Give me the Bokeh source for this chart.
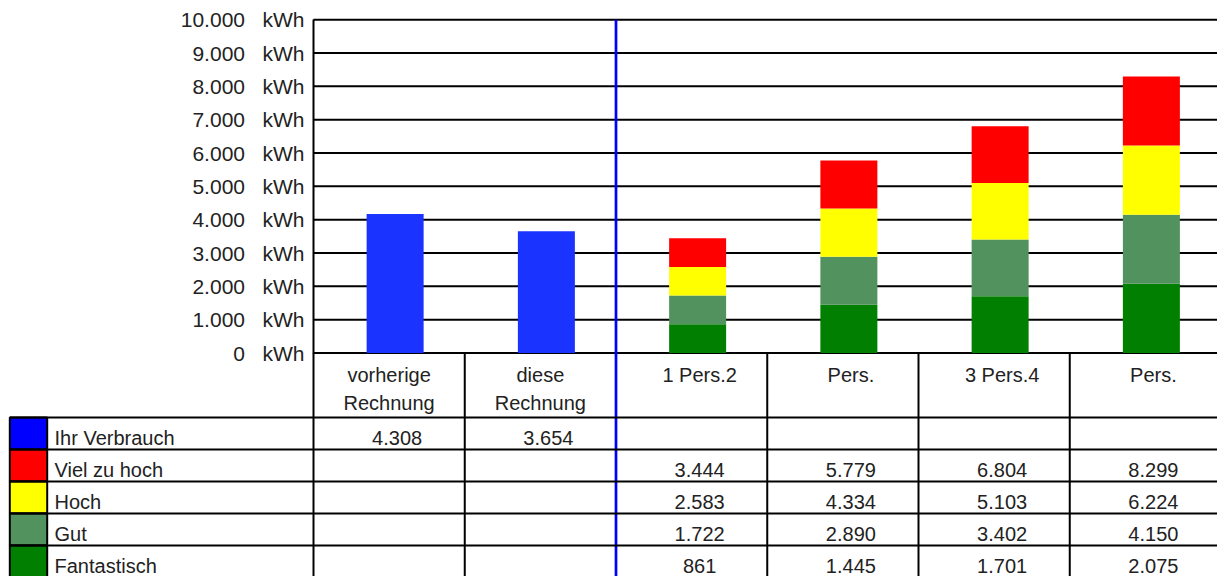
from bokeh.plotting import figure
from bokeh.models import Range1d, FixedTicker
from bokeh.core.properties import value
from bokeh.embed import file_html
from bokeh.resources import INLINE

# ---------------- data ----------------
kategorien = ["vorherige\nRechnung", "diese\nRechnung", "1 Pers.2", "Pers.", "3 Pers.4", "Pers."]
verbrauch_tabelle = [4308, 3654]          # values printed in the table
verbrauch_balken = [4170, 3654]           # bar heights as drawn in the chart
viel_zu_hoch = [3444, 5779, 6804, 8299]
hoch = [2583, 4334, 5103, 6224]
gut = [1722, 2890, 3402, 4150]
fantastisch = [861, 1445, 1701, 2075]
reihen = ["Ihr Verbrauch", "Viel zu hoch", "Hoch", "Gut", "Fantastisch"]
farben = ["#0000ff", "#ff0000", "#ffff00", "#52925e", "#007f00"]
balken_blau = "#1a33ff"
y_ticks = list(range(0, 10001, 1000))

# ---------------- layout constants ----------------
FONT = value("Liberation Sans")
TXT = "#222222"
W, H = 1217, 576
X0 = 313.0            # pixel of the plot's left edge
COL = 151.25          # pixel width of one category column
K0 = 352.5            # pixel of 0 kWh
KPX = 333.3 / 10000   # pixels per kWh
ROW = 32.0            # pixel height of one table row
x_start, x_end = -X0 / COL, (W - X0) / COL
y_start, y_end = -(H - K0) / KPX, K0 / KPX


def px_x(px):
    return (px - X0) / COL


def px_row(px):
    return (px - K0) / ROW


def fmt(v):
    return f"{v:,}".replace(",", ".")


bar_shift = 6 / COL
bar_w = 57 / COL
txt_shift = 8 / COL
TXT_CORR = 8  # pixel correction of the text baseline

p = figure(width=W, height=H, x_range=Range1d(x_start, x_end), y_range=Range1d(y_start, y_end),
           output_backend="svg", toolbar_location=None, x_axis_location=None, min_border=0)
p.extra_y_ranges = {"tab": Range1d(start=(H - K0) / ROW, end=-K0 / ROW)}
p.outline_line_color = None
p.background_fill_color = "white"
p.grid.visible = False

ax = p.yaxis[0]
ax.fixed_location = 0
ax.ticker = FixedTicker(ticks=y_ticks)
ax.bounds = (0, 10000)
ax.axis_line_width = 2
ax.axis_line_color = "black"
ax.major_tick_out = 0
ax.major_tick_in = 0
ax.minor_tick_out = 0
ax.minor_tick_in = 0
ax.major_label_standoff = 9
ax.major_label_text_font = "Liberation Sans"
ax.major_label_text_font_size = "21px"
ax.major_label_text_color = TXT
ax.major_label_overrides = {t: fmt(t) + "\u00a0\u00a0\u00a0kWh" for t in y_ticks}

# horizontal grid lines of the chart
p.segment(x0=[0] * len(y_ticks), x1=[x_end] * len(y_ticks), y0=y_ticks, y1=y_ticks,
          line_color="black", line_width=2)

# blue bars (own consumption)
p.vbar(x=[i + 0.5 + bar_shift for i in range(2)], top=verbrauch_balken, width=bar_w,
       fill_color=balken_blau, line_color=None)

# stacked reference bars
xs = [i + 0.5 + bar_shift for i in range(2, 6)]
stufen = [([0] * 4, fantastisch, farben[4]), (fantastisch, gut, farben[3]),
          (gut, hoch, farben[2]), (hoch, viel_zu_hoch, farben[1])]
for unten, oben, farbe in stufen:
    p.vbar(x=xs, bottom=unten, top=oben, width=bar_w, fill_color=farbe, line_color=None)

# ---------------- data table ----------------
hdr = px_row(417)
row_tops = [hdr + k for k in range(len(reihen))]
row_bottoms = [hdr + k + 1 for k in range(len(reihen))]
key_l, key_r = px_x(9.3), px_x(46.7)

# vertical column lines (below the chart baseline)
vx = [0, 1, 3, 4, 5]
p.segment(x0=vx, x1=vx, y0=[0] * len(vx), y1=[y_start] * len(vx), line_color="black", line_width=2)
# separator between bills and reference values
p.segment(x0=[2], x1=[2], y0=[10000], y1=[y_start], line_color="#0000ff", line_width=2.7)

# legend keys
p.quad(left=key_l, right=key_r, top=row_tops, bottom=row_bottoms, fill_color=farben,
       line_color="black", line_width=2, y_range_name="tab")
hl = [hdr] + row_bottoms
p.segment(x0=[key_l] * len(hl), x1=[x_end] * len(hl), y0=hl, y1=hl, line_color="black",
          line_width=2, y_range_name="tab")

txt_kw = dict(text_font=FONT, text_font_size="20px", text_color=TXT, text_baseline="alphabetic",
              y_range_name="tab")
base_off = (4 + TXT_CORR) / ROW

# row labels
p.text(x=[px_x(54)] * len(reihen), y=[b - base_off for b in row_bottoms], text=reihen,
       text_align="left", **txt_kw)

# column headers
l1x, l1t, l2x, l2t = [], [], [], []
for i, k in enumerate(kategorien):
    parts = k.split("\n")
    xc = i + 0.5 + (0 if len(parts) > 1 else txt_shift)
    l1x.append(xc); l1t.append(parts[0])
    if len(parts) > 1:
        l2x.append(xc); l2t.append(parts[1])
p.text(x=l1x, y=[px_row(382.3 - TXT_CORR)] * len(l1x), text=l1t, text_align="center", **txt_kw)
p.text(x=l2x, y=[px_row(410 - TXT_CORR)] * len(l2x), text=l2t, text_align="center", **txt_kw)

# values
vx_, vy_, vt_ = [], [], []
for i, v in enumerate(verbrauch_tabelle):
    vx_.append(i + 0.5 + txt_shift); vy_.append(row_bottoms[0] - base_off); vt_.append(fmt(v))
for r, serie in enumerate([viel_zu_hoch, hoch, gut, fantastisch], start=1):
    for j, v in enumerate(serie):
        vx_.append(j + 2 + 0.5 + txt_shift); vy_.append(row_bottoms[r] - base_off); vt_.append(fmt(v))
p.text(x=vx_, y=vy_, text=vt_, text_align="center", **txt_kw)

open("out.html", "w").write(file_html(p, INLINE))
